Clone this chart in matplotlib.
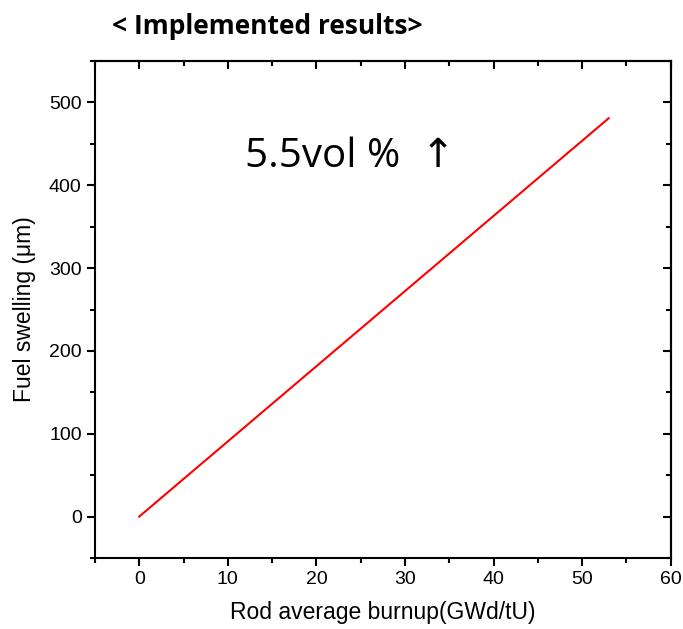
#!/usr/bin/env python3

from matplotlib import pyplot as plt
from matplotlib.ticker import MultipleLocator, NullFormatter

# data
burnup = [0.0, 53.0]
swelling = [0.0, 481.0]

title = '< Implemented results>'
note = '5.5vol %  \u2191'
xlabel = 'Rod average burnup(GWd/tU)'
ylabel = 'Fuel swelling (\u03bcm)'

plt.rcParams['font.family'] = ['Liberation Sans', 'DejaVu Sans']

fig = plt.figure(figsize=(6.83, 6.29), dpi=100)
ax = fig.add_axes([0.139, 0.1129, 0.843, 0.790])

ax.plot(burnup, swelling, color='red', linewidth=1.5)

ax.set_xlim(-5, 60)
ax.set_ylim(-50, 550)
ax.xaxis.set_major_locator(MultipleLocator(10))
ax.xaxis.set_minor_locator(MultipleLocator(5))
ax.yaxis.set_major_locator(MultipleLocator(100))
ax.yaxis.set_minor_locator(MultipleLocator(50))

for side in ax.spines.values():
    side.set_linewidth(1.5)

# bottom / left: outward ticks with labels
ax.tick_params(which='major', direction='out', length=6, width=1.5,
               labelsize=14, top=False, right=False)
ax.tick_params(which='minor', direction='out', length=3.5, width=1.5,
               top=False, right=False)

# top / right: inward ticks, no labels
top = ax.secondary_xaxis('top')
top.xaxis.set_major_locator(MultipleLocator(10))
top.xaxis.set_minor_locator(MultipleLocator(5))
top.xaxis.set_major_formatter(NullFormatter())
top.tick_params(which='major', direction='in', length=6, width=1.5)
top.tick_params(which='minor', direction='in', length=3.5, width=1.5)
top.spines['top'].set_linewidth(1.5)

right = ax.secondary_yaxis('right')
right.yaxis.set_major_locator(MultipleLocator(100))
right.yaxis.set_minor_locator(MultipleLocator(50))
right.yaxis.set_major_formatter(NullFormatter())
right.tick_params(which='major', direction='in', length=6, width=1.5)
right.tick_params(which='minor', direction='in', length=3.5, width=1.5)
right.spines['right'].set_linewidth(1.5)

ax.set_xlabel(xlabel, fontsize=16.5, labelpad=9)
ax.set_ylabel(ylabel, fontsize=16.5, labelpad=9)

ax.text(0.26, 0.807, note, transform=ax.transAxes, fontsize=29,
        family=['Open Sans', 'DejaVu Sans'], ha='left', va='center')

fig.text(0.164, 0.958, title, fontsize=19, fontweight='bold',
         family=['Open Sans', 'DejaVu Sans'], ha='left', va='center')

plt.savefig('out.png', dpi=100)
